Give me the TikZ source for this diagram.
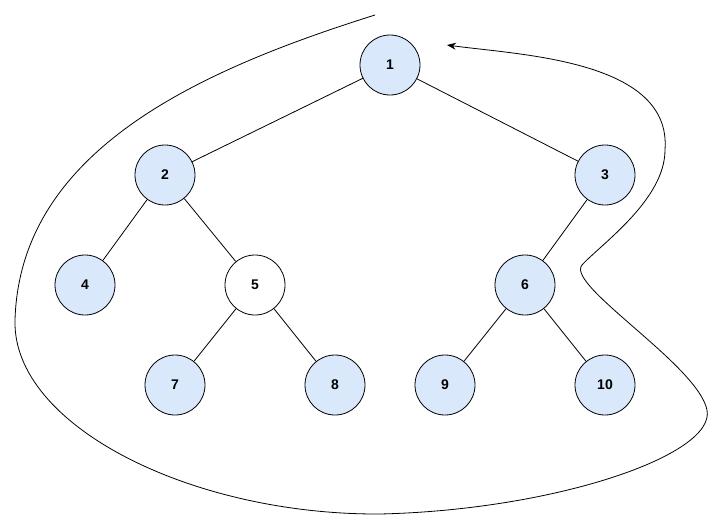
\documentclass[tikz,border=0pt]{standalone}
\usepackage{fontspec}
\setmainfont{Liberation Sans}
\usetikzlibrary{arrows.meta}
\definecolor{nodeblue}{HTML}{DAE8FC}

\begin{document}
\begin{tikzpicture}[
  x=1pt, y=-1pt,
  every node/.style={draw, circle, minimum size=60pt, inner sep=0pt, line width=0.8pt,
    font=\fontsize{14}{16}\selectfont\bfseries},
  vertex/.style={fill=nodeblue},
  plain/.style={fill=white},
  edge/.style={line width=0.8pt}
]
  \useasboundingbox (0,0) rectangle (724,531);
  \node[vertex] (n1) at (390,65) {1};
  \node[vertex] (n2) at (165,175) {2};
  \node[vertex] (n3) at (605,175) {3};
  \node[vertex] (n4) at (85,285) {4};
  \node[plain]  (n5) at (255,285) {5};
  \node[vertex] (n6) at (525,285) {6};
  \node[vertex] (n7) at (175,385) {7};
  \node[vertex] (n8) at (335,385) {8};
  \node[vertex] (n9) at (445,385) {9};
  \node[vertex] (n10) at (605,385) {10};
  \foreach \a/\b in {n1/n2, n1/n3, n2/n4, n2/n5, n3/n6, n5/n7, n5/n8, n6/n9, n6/n10}
    \draw[edge] (\a) -- (\b);
  % traversal curve
  \coordinate (start) at (375,15);
  \coordinate (finish) at (447,45);
  \draw[edge, -{Stealth[length=9pt,width=7pt]}] (start)
    .. controls (200,70) and (20,150) .. (15,320)
    .. controls (12,425) and (190,515) .. (380,514)
    .. controls (555,510) and (716,455) .. (707,410)
    .. controls (698,365) and (565,285) .. (582,265)
    .. controls (600,245) and (665,200) .. (665,150)
    .. controls (672,60) and (520,55) .. (finish);
\end{tikzpicture}
\end{document}
